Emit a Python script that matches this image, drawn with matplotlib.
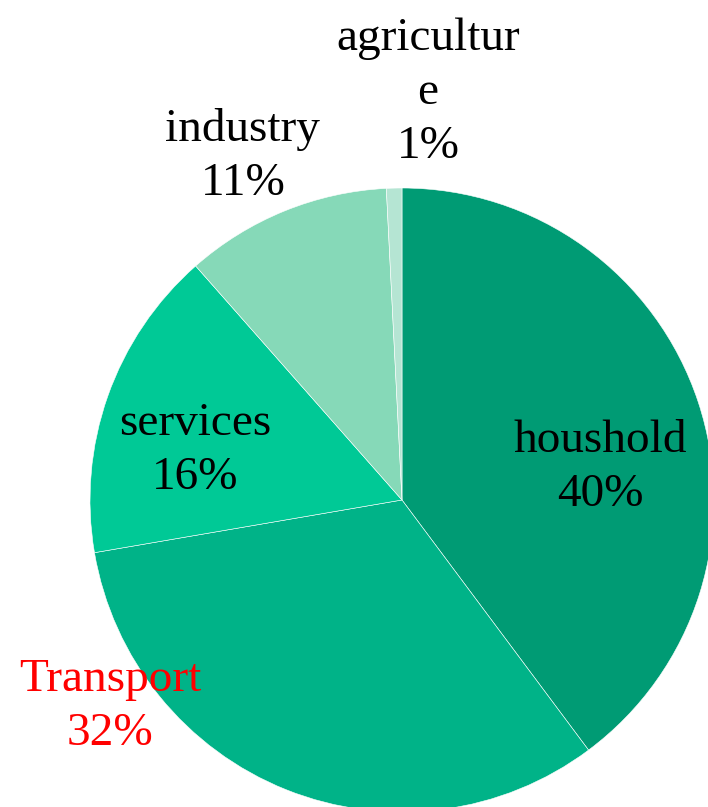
import matplotlib
matplotlib.use("Agg")
import matplotlib.pyplot as plt

# data (clockwise from 12 o'clock)
sectors = ["houshold", "Transport", "services", "industry", "agriculture"]
shares = [39.8, 32.5, 16.2, 10.7, 0.8]
pct_labels = ["40%", "32%", "16%", "11%", "1%"]
label_text = ["houshold", "Transport", "services", "industry", "agricultur\ne"]
colors = ["#009b74", "#00b388", "#00c996", "#86d9b8", "#b5e5d3"]
text_colors = ["black", "red", "black", "black", "black"]

# label centres, in pie radii from the centre
label_pos = [(0.635, 0.103), (-0.936, -0.663), (-0.663, 0.157), (-0.51, 1.10), (0.083, 1.305)]

plt.rcParams["font.family"] = ["Liberation Serif", "DejaVu Serif"]

fig = plt.figure(figsize=(7.08, 8.07), dpi=100)
ax = fig.add_axes([0, 0, 1, 1])

ax.pie(shares, colors=colors, startangle=90, counterclock=False, radius=1,
       wedgeprops=dict(edgecolor="white", linewidth=0.4))

for name, pct, (x, y), c in zip(label_text, pct_labels, label_pos, text_colors):
    ax.text(x, y, name + "\n" + pct, ha="center", va="center", color=c,
            fontsize=34, linespacing=1.35)

# centre at (402, 500) px, radius ~312 px
scale = 312.0
ax.set_xlim(-402 / scale, (708 - 402) / scale)
ax.set_ylim(-(807 - 500) / scale, 500 / scale)
ax.set_aspect("auto")
ax.axis("off")

fig.savefig("out.png", dpi=100)
